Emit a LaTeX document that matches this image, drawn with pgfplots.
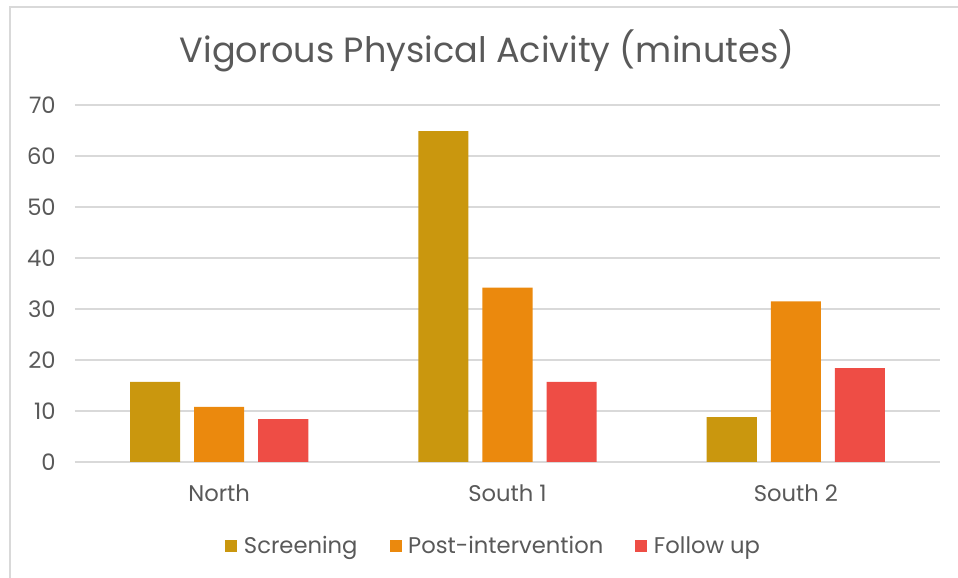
\documentclass[border=0pt]{standalone}
\usepackage{pgfplots}
\pgfplotsset{compat=1.18}
\usepackage{fontspec}
\setmainfont{Poppins}
\definecolor{screen}{HTML}{CA970E}
\definecolor{post}{HTML}{EB890D}
\definecolor{follow}{HTML}{EE4D45}
\definecolor{txt}{HTML}{595959}
\definecolor{grd}{HTML}{D9D9D9}
\begin{document}
\begin{tikzpicture}
\begin{axis}[
    scale only axis,
    width=648.75pt, height=267.75pt,
    xmin=-0.5, xmax=2.5, ymin=0, ymax=70,
    ytick={0,10,...,70},
    xtick={0,1,2}, xticklabels={North,South 1,South 2},
    axis line style={draw=none},
    major tick length=0pt,
    ymajorgrids, grid style={grd, line width=1.1pt},
    /pgf/number format/assume math mode=true,
    tick label style={font=\fontsize{17}{20}\selectfont, text=txt},
    yticklabel style={inner sep=0pt, anchor=east, xshift=-14.25pt},
    xticklabel style={inner sep=0pt, anchor=center, yshift=-23.25pt},
    legend style={at={(0.4844,-0.235)}, anchor=center, draw=none,
        font=\fontsize{17}{20}\selectfont, text=txt,
        /tikz/every even column/.append style={column sep=22pt}},
    legend columns=3,
    legend cell align=left,
    legend image code/.code={\fill[#1] (0pt,-4.5pt) rectangle (9pt,4.5pt);
        \path (12pt,0pt);},
]
\addplot[ybar, fill=screen, draw=none, bar width=0.1736, bar shift=-0.2222]
    coordinates {(0,15.7) (1,64.9) (2,8.8)};
\addlegendentry{Screening}
\addplot[ybar, fill=post, draw=none, bar width=0.1736, bar shift=0]
    coordinates {(0,10.8) (1,34.2) (2,31.5)};
\addlegendentry{Post-intervention}
\addplot[ybar, fill=follow, draw=none, bar width=0.1736, bar shift=0.2222]
    coordinates {(0,8.4) (1,15.7) (2,18.4)};
\addlegendentry{Follow up}
\end{axis}
\node[text=txt, font=\fontsize{26.3}{30}\selectfont] at (309pt,308pt)
    {Vigorous Physical Acivity (minutes)};
\draw[grd, line width=1.5pt] (-48.75pt,-87pt) -- (-48.75pt,340.9pt) -- (662.25pt,340.9pt);
\pgfresetboundingbox
\useasboundingbox (-56.25pt,-87pt) rectangle (662.25pt,346.5pt);
\end{tikzpicture}
\end{document}
